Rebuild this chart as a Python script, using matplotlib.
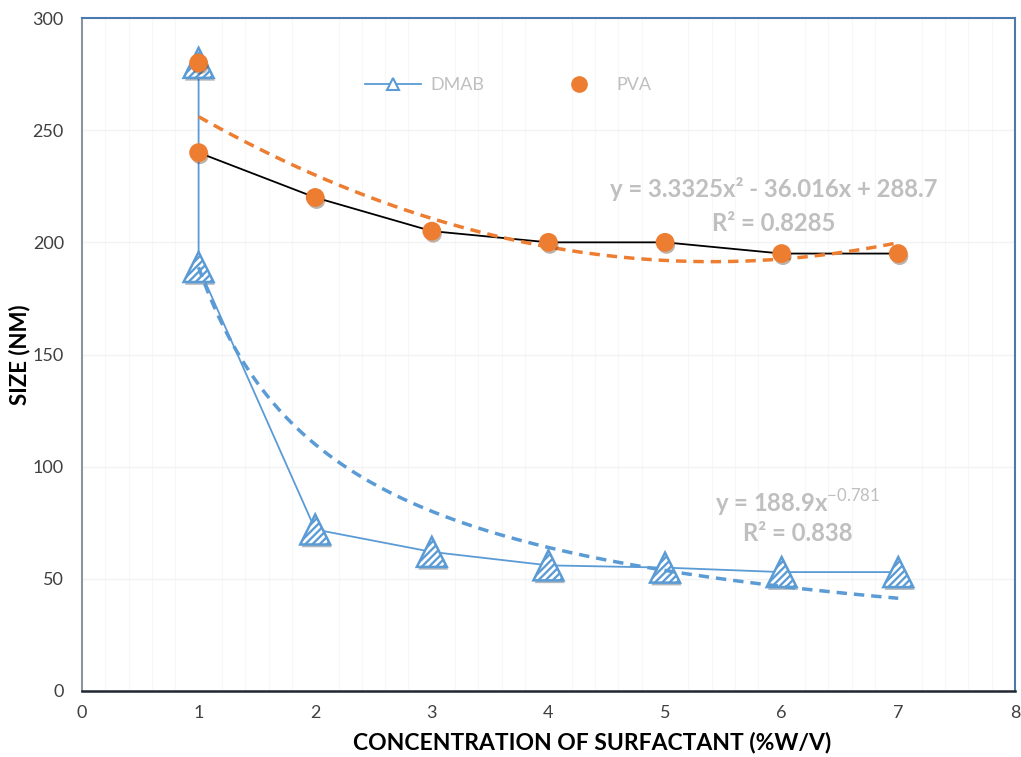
import matplotlib
matplotlib.use("Agg")
import matplotlib.pyplot as plt
import matplotlib.patheffects as pe
from matplotlib.markers import MarkerStyle
from matplotlib.patches import PathPatch
from matplotlib.collections import LineCollection
from matplotlib.transforms import Affine2D, ScaledTranslation
import numpy as np

plt.rcParams['font.family'] = ['Lato', 'DejaVu Sans']
plt.rcParams['mathtext.fontset'] = 'custom'
plt.rcParams['mathtext.rm'] = 'Lato'

# data
dmab_x = [1, 1, 2, 3, 4, 5, 6, 7]
dmab_y = [280, 189, 72, 62, 56, 55, 53, 53]
pva_x = [1, 1, 2, 3, 4, 5, 6, 7]
pva_y = [280, 240, 220, 205, 200, 200, 195, 195]

# trendline coefficients printed on the chart
quad_coef = [3.3325, -36.016, 288.7]
pow_a, pow_b = 188.9, -0.781

blue = '#5B9BD5'
orange = '#ED7D31'
grey_txt = '#BFBFBF'

fig = plt.figure(figsize=(10.21, 7.57), dpi=100)
ax = fig.add_axes([0.0803, 0.0872, 0.9137, 0.889])

# faint grid
ax.set_axisbelow(True)
ax.grid(axis='y', color='#F3F3F3', lw=1)
ax.set_xticks(np.arange(0, 8, 0.2), minor=True)
ax.grid(axis='x', which='minor', color='#F7F7F7', lw=0.8)

shadow = [pe.SimplePatchShadow(offset=(1, -2), alpha=0.35), pe.Normal()]

# DMAB - striped triangles built as patches
ax.plot(dmab_x, dmab_y, color=blue, lw=1.3, zorder=3)
ms = MarkerStyle('^')
tri_path = ms.get_path().transformed(ms.get_transform())
tri_size = 0.30  # inches
offs = np.arange(-1.0, 1.0, 0.24)
stripes = [[(-1, -1 + c), (1, 1 + c)] for c in offs]
for x, y in zip(dmab_x, dmab_y):
    tr = Affine2D().scale(tri_size) + fig.dpi_scale_trans + ScaledTranslation(x, y, ax.transData)
    base = PathPatch(tri_path, transform=tr, facecolor=blue, edgecolor='none',
                     zorder=4, path_effects=shadow)
    ax.add_patch(base)
    lc = LineCollection(stripes, colors='white', linewidths=2.0, transform=tr, zorder=4.1)
    lc.set_clip_path(base)
    ax.add_collection(lc)
    ax.add_patch(PathPatch(tri_path, transform=tr, facecolor='none', edgecolor=blue,
                           lw=1.8, zorder=4.2))
# PVA
ax.plot(pva_x[1:], pva_y[1:], color='black', lw=1.3, zorder=3)
ax.plot(pva_x, pva_y, ls='none', marker='o', ms=12.5, color=orange, zorder=5,
        path_effects=shadow)

# trendlines
xf = np.linspace(1, 7, 200)
ax.plot(xf, np.polyval(quad_coef, xf), color=orange, lw=2.5, ls=(0, (3, 2)), zorder=4.6)
ax.plot(xf, pow_a * xf ** pow_b, color=blue, lw=2.5, ls=(0, (3, 2)), zorder=4.6)

# legend
h1 = ax.plot([], [], color=blue, lw=1.3, marker='^', ms=8, mfc='white', mec=blue, mew=1.5)[0]
h2 = ax.plot([], [], ls='none', marker='o', ms=11, color=orange)[0]
leg = ax.legend([h1, h2], ['DMAB', 'PVA'], ncol=2, frameon=False, loc='center',
                bbox_to_anchor=(0.457, 0.9), columnspacing=3.7, handlelength=3.1,
                handletextpad=0.5, fontsize=13, labelcolor=grey_txt)

# equations
ax.text(5.93, 224, 'y = 3.3325x² - 36.016x + 288.7', ha='center', va='center',
        fontsize=17.2, fontweight='bold', color=grey_txt)
ax.text(5.93, 208.5, 'R² = 0.8285', ha='center', va='center',
        fontsize=17.2, fontweight='bold', color=grey_txt)
ax.text(6.14, 84, r'y = 188.9x$^{-0.781}$', ha='center', va='center',
        fontsize=17.2, fontweight='bold', color=grey_txt)
ax.text(6.14, 70, 'R² = 0.838', ha='center', va='center',
        fontsize=17.2, fontweight='bold', color=grey_txt)

ax.set_xlim(0, 8)
ax.set_ylim(0, 300)
ax.set_xticks(range(0, 9))
ax.set_yticks(range(0, 301, 50))
ax.tick_params(which='both', length=0, labelsize=13, labelcolor='#404040', pad=10)
ax.tick_params(axis='y', pad=13)

ax.spines['left'].set_color('#8C959E')
ax.spines['left'].set_linewidth(1.5)
ax.spines['bottom'].set_color('#1F2630')
ax.spines['bottom'].set_linewidth(1.8)
for s in ['top', 'right']:
    ax.spines[s].set_color('#4A7AB0')
    ax.spines[s].set_linewidth(1.5)

ax.set_xlabel('CONCENTRATION OF SURFACTANT (%W/V)', fontsize=16.5, fontweight='bold')
ax.xaxis.set_label_coords(0.547, -0.06)
ax.set_ylabel('SIZE (NM)', fontsize=16, fontweight='bold')
ax.yaxis.set_label_coords(-0.055, 0.5)

fig.savefig('out.png', dpi=100)
